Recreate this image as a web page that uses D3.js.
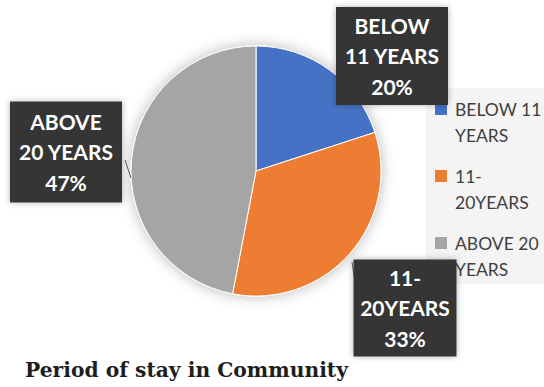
<!DOCTYPE html>
<html>
<head>
<meta charset="utf-8">
<script src="https://cdn.jsdelivr.net/npm/d3@7"></script>
<style>
  html, body { margin: 0; padding: 0; background: #fff; }
  svg { display: block; }
</style>
</head>
<body>
<svg id="chart" width="544" height="387"></svg>
<script>
// Period of stay in community: share of respondents per group
const categories = ["BELOW 11 YEARS", "11-20YEARS", "ABOVE 20 YEARS"];
const values = [20, 33, 47];
const labelLines = [["BELOW", "11 YEARS"], ["11-", "20YEARS"], ["ABOVE", "20 YEARS"]];
const legendLines = [["BELOW 11", "YEARS"], ["11-", "20YEARS"], ["ABOVE 20", "YEARS"]];
const colors = ["#4472C4", "#ED7D31", "#A5A5A5"];
const title = "Period of stay in Community";

const svg = d3.select("#chart");
const cx = 256, cy = 171, radius = 125;

// soft halo behind the pie and the label boxes
const defs = svg.append("defs");
function halo(id, sd, op) {
  const f = defs.append("filter").attr("id", id)
    .attr("x", "-30%").attr("y", "-30%").attr("width", "160%").attr("height", "160%");
  f.append("feGaussianBlur").attr("in", "SourceAlpha").attr("stdDeviation", sd).attr("result", "b");
  f.append("feFlood").attr("flood-color", "#000").attr("flood-opacity", op).attr("result", "c");
  f.append("feComposite").attr("in", "c").attr("in2", "b").attr("operator", "in").attr("result", "s");
  const m = f.append("feMerge");
  m.append("feMergeNode").attr("in", "s");
  m.append("feMergeNode").attr("in", "SourceGraphic");
}
halo("pieHalo", 7, 0.28);
halo("boxHalo", 3, 0.3);

const total = d3.sum(values);
const data = categories.map((c, i) => ({ cat: c, value: values[i], i }));

const color = d3.scaleOrdinal().domain(categories).range(colors);
const pie = d3.pie().value(d => d.value).sort(null).startAngle(0).endAngle(2 * Math.PI);
const arcs = pie(data);
const arc = d3.arc().innerRadius(0).outerRadius(radius);

// legend panel
const legendX = 435, legendTop = [103, 170, 237];
svg.append("rect").attr("x", 426).attr("y", 88).attr("width", 118).attr("height", 196)
  .attr("fill", "#f4f4f4");
const lg = svg.append("g").attr("class", "legend");
data.forEach((d, k) => {
  const g = lg.append("g").attr("transform", `translate(${legendX},${legendTop[k]})`);
  g.append("rect").attr("width", 12).attr("height", 12).attr("fill", color(d.cat));
  const t = g.append("text")
    .attr("font-family", "Lato, 'Open Sans', sans-serif")
    .attr("font-size", 17.5).attr("fill", "#3f3f3f");
  legendLines[k].forEach((ln, j) => {
    t.append("tspan").attr("x", 20).attr("y", 13 + j * 26).text(ln);
  });
});

// pie
const pg = svg.append("g").attr("transform", `translate(${cx},${cy})`);
pg.append("g").attr("filter", "url(#pieHalo)")
  .selectAll("path").data(arcs).join("path")
  .attr("d", arc)
  .attr("fill", d => color(d.data.cat))
  .attr("stroke", "#fff").attr("stroke-width", 1);

// data label boxes (one per slice, in slice order)
const boxCentre = [[392, 56], [405, 308], [66, 152]];
const boxSize = [[112, 98], [103, 97], [112, 101]];

// short leader ticks from boxes toward the pie
const leaders = [[[352, 262], [354, 276]], [[125, 160], [131, 178]]];
leaders.forEach(l => {
  svg.append("path").attr("d", d3.line()(l)).attr("stroke", "#595959")
    .attr("stroke-width", 1).attr("fill", "none");
});

const fmt = v => Math.round(v / total * 100) + "%";
arcs.forEach((a, k) => {
  const [bx, by] = boxCentre[k];
  const [bw, bh] = boxSize[k];
  const g = svg.append("g").attr("transform", `translate(${bx},${by})`);
  g.append("rect").attr("x", -bw / 2).attr("y", -bh / 2).attr("width", bw).attr("height", bh)
    .attr("fill", "#363636").attr("filter", "url(#boxHalo)");
  const lines = labelLines[k].concat([fmt(a.data.value)]);
  const t = g.append("text").attr("text-anchor", "middle")
    .attr("font-family", "Lato, 'Open Sans', sans-serif")
    .attr("font-weight", "bold").attr("font-size", 21).attr("fill", "#fff");
  lines.forEach((ln, j) => {
    t.append("tspan").attr("x", 0).attr("y", (j - 1) * 30.5 + 8).text(ln);
  });
});

// chart title
svg.append("text").attr("x", 25).attr("y", 377)
  .attr("font-family", "'DejaVu Serif', serif").attr("font-weight", "bold")
  .attr("font-size", 19.5).attr("fill", "#1e1e1e")
  .attr("textLength", 323).attr("lengthAdjust", "spacingAndGlyphs")
  .text(title);
</script>
</body>
</html>
